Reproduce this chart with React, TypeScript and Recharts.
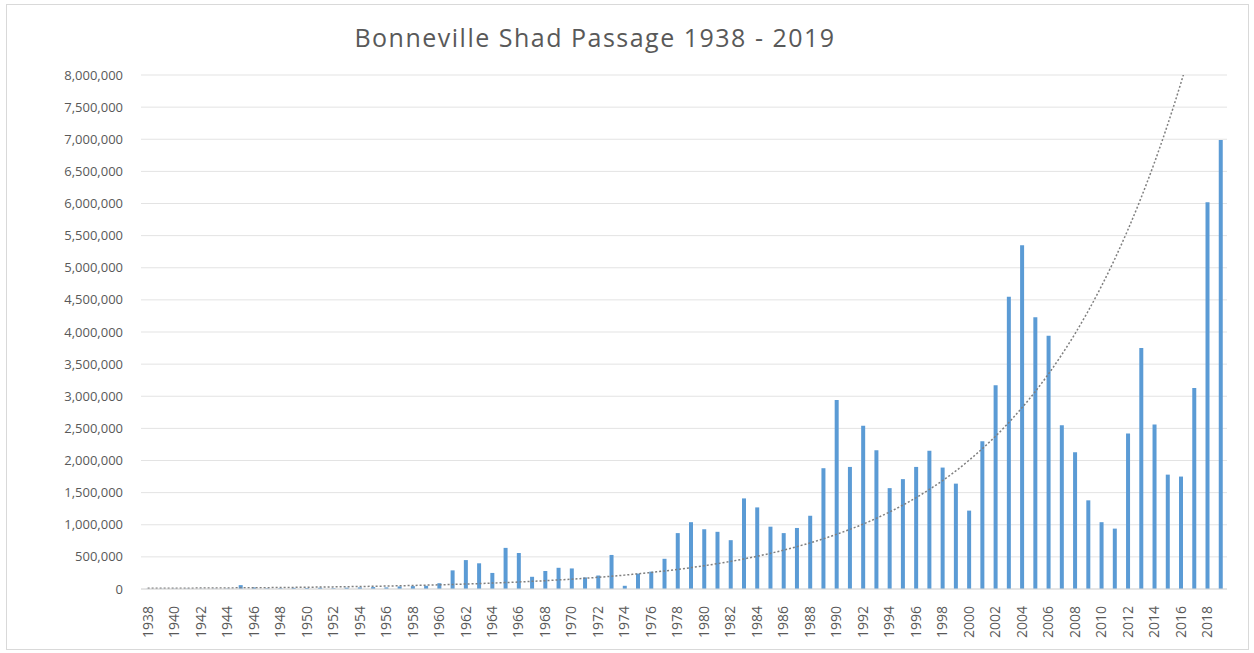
import React from "react";
import {
  ComposedChart,
  Bar,
  Line,
  XAxis,
  YAxis,
  CartesianGrid,
} from "recharts";

// years on the category axis
const years = Array.from({ length: 82 }, (_, i) => String(1938 + i));

// annual shad count at Bonneville
const passage = [
  2000, 3000, 4000, 5000, 3000, 4000, 6000, 60000, 25000, 10000,
  12000, 18000, 15000, 20000, 12000, 20000, 25000, 30000, 25000, 40000,
  45000, 50000, 90000, 290000, 450000, 400000, 250000, 640000, 560000, 190000,
  280000, 330000, 320000, 180000, 210000, 530000, 50000, 240000, 270000, 470000,
  870000, 1040000, 930000, 890000, 760000, 1410000, 1270000, 970000, 870000, 950000,
  1140000, 1880000, 2940000, 1900000, 2540000, 2160000, 1570000, 1710000, 1900000, 2150000,
  1890000, 1640000, 1220000, 2300000, 3170000, 4550000, 5350000, 4230000, 3940000, 2550000,
  2130000, 1380000, 1040000, 940000, 2420000, 3750000, 2560000, 1780000, 1750000, 3130000,
  6020000, 6990000,
];

// dotted exponential trendline as drawn in the picture (ends off the top after 2016)
const trend = [
  10000, 11000, 12000, 13000, 14000, 15000, 17000, 18000, 20000, 21000,
  23000, 25000, 28000, 30000, 33000, 36000, 39000, 42000, 46000, 50000,
  55000, 60000, 65000, 71000, 77000, 84000, 92000, 100000, 109000, 119000,
  129000, 141000, 153000, 167000, 182000, 198000, 216000, 236000, 257000, 280000,
  304000, 332000, 361000, 394000, 429000, 467000, 509000, 554000, 604000, 658000,
  716000, 780000, 850000, 926000, 1008000, 1098000, 1196000, 1303000, 1419000, 1546000,
  1684000, 1834000, 2000000, 2179000, 2373000, 2585000, 2816000, 3067000, 3341000, 3640000,
  3965000, 4319000, 4705000, 5125000, 5583000, 6082000, 6625000, 7217000, 7862000, 8564000,
  null, null,
];

const yTicks = [
  0, 500000, 1000000, 1500000, 2000000, 2500000, 3000000, 3500000, 4000000,
  4500000, 5000000, 5500000, 6000000, 6500000, 7000000, 7500000, 8000000,
];

const chartData = years.map((year, i) => ({
  year,
  passage: passage[i],
  trend: trend[i],
}));

const FONT = "'Open Sans', 'Liberation Sans', sans-serif";
const TEXT = "#595959";

// rotated year labels, reading bottom to top
const YearTick = ({ x, y, payload }: any) => (
  <g transform={`translate(${x},${y + 9})`}>
    <text
      x={0}
      y={0}
      dy="0.36em"
      textAnchor="end"
      transform="rotate(-90)"
      fill={TEXT}
      fontSize={14}
      fontFamily={FONT}
    >
      {payload.value}
    </text>
  </g>
);

export default function App() {
  return (
    <div
      style={{
        position: "absolute",
        left: 0,
        top: 0,
        width: 1254,
        height: 653,
        background: "#fff",
        fontFamily: FONT,
      }}
    >
      <div
        style={{
          position: "absolute",
          left: 6,
          top: 4,
          width: 1241,
          height: 644,
          border: "1px solid #d9d9d9",
        }}
      />
      <div
        style={{
          position: "absolute",
          left: 0,
          top: 20,
          width: 1190,
          textAlign: "center",
          fontSize: 25,
          letterSpacing: 1.5,
          lineHeight: "34px",
          color: TEXT,
        }}
      >
        Bonneville Shad Passage 1938 - 2019
      </div>
      <div style={{ position: "absolute", left: 0, top: 0 }}>
        <ComposedChart
          width={1254}
          height={653}
          data={chartData}
          margin={{ top: 75, right: 27, bottom: 8, left: 0 }}
          barCategoryGap="35%"
        >
          <CartesianGrid vertical={false} stroke="#e3e3e3" />
          <XAxis
            dataKey="year"
            interval={1}
            tickLine={false}
            axisLine={{ stroke: "#d9d9d9" }}
            height={56}
            tick={<YearTick />}
          />
          <YAxis
            width={141}
            domain={[0, 8000000]}
            ticks={yTicks}
            allowDataOverflow
            axisLine={false}
            tickLine={false}
            tickMargin={12}
            tickFormatter={(v: number) => v.toLocaleString("en-US")}
            tick={{ fill: TEXT, fontSize: 13, fontFamily: FONT }}
          />
          <Bar
            dataKey="passage"
            fill="#5b9bd5"
            barSize={4}
            isAnimationActive={false}
          />
          <Line
            dataKey="trend"
            type="monotone"
            stroke="#7f7f7f"
            strokeWidth={1.5}
            strokeDasharray="2 2"
            dot={false}
            isAnimationActive={false}
          />
        </ComposedChart>
      </div>
    </div>
  );
}
